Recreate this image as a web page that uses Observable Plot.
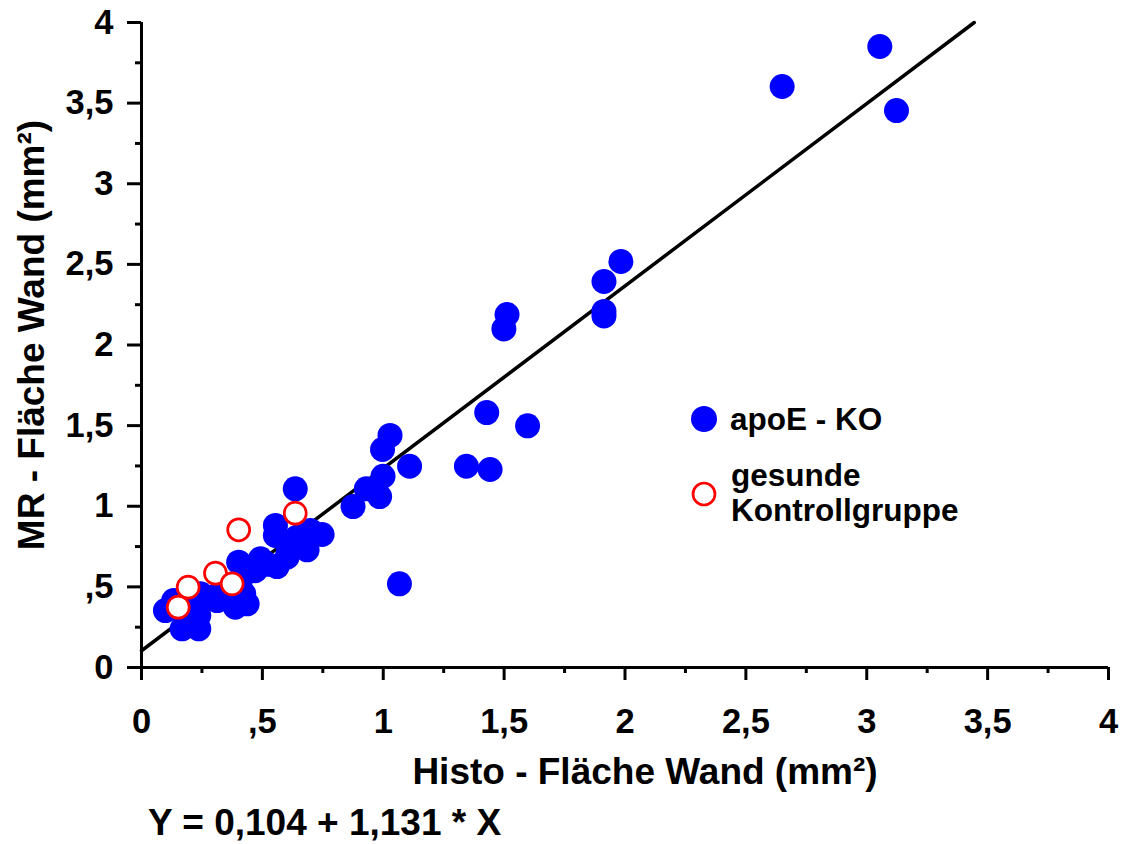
<!DOCTYPE html>
<html>
<head>
<meta charset="utf-8">
<script src="https://cdn.jsdelivr.net/npm/d3@7"></script>
<script src="https://cdn.jsdelivr.net/npm/@observablehq/plot@0.6"></script>
<style>
  body { margin: 0; background: #fff; }
  #wrap { position: relative; width: 1123px; height: 844px; font-family: "Liberation Sans", Arial, sans-serif; font-weight: bold; color: #000; }
  #chart svg { display: block; }
  #legend svg { position: absolute; overflow: visible; }
  .lt { position: absolute; white-space: nowrap; font-size: 31.5px; line-height: 35px; }
  #eq { position: absolute; left: 148px; top: 804px; font-size: 37px; line-height: 37px; white-space: nowrap; }
</style>
</head>
<body>
<div id="wrap">
  <div id="chart"></div>
  <div id="legend"></div>
  <div id="eq"></div>
</div>
<script>
// ---- data ----
const tickValues = [0, 0.5, 1, 1.5, 2, 2.5, 3, 3.5, 4];
const tickLabels = ["0", ",5", "1", "1,5", "2", "2,5", "3", "3,5", "4"];
const minorTicks = [0.25, 0.75, 1.25, 1.75, 2.25, 2.75, 3.25, 3.75];

const xTitle = "Histo - Fläche Wand (mm²)";
const yTitle = "MR - Fläche Wand (mm²)";
const seriesNames = ["apoE - KO", "gesunde Kontrollgruppe"];
const seriesLines = [["apoE - KO"], ["gesunde", "Kontrollgruppe"]];

const apoeX = [3.054, 3.123, 2.650, 1.983, 1.913, 1.913, 1.913, 1.512, 1.499, 1.428,
               1.597, 1.344, 1.442, 1.109, 1.028, 0.997, 0.999, 0.930, 0.985, 0.875,
               1.067, 0.636, 0.554, 0.554, 0.747, 0.685, 0.643, 0.602, 0.698, 0.402,
               0.492, 0.561, 0.602, 0.437, 0.388, 0.423, 0.409, 0.099, 0.168, 0.237,
               0.237, 0.285, 0.313, 0.244, 0.202, 0.133, 0.470, 0.520, 0.330];
const apoeY = [3.851, 3.454, 3.603, 2.518, 2.394, 2.208, 2.180, 2.189, 2.100, 1.581,
               1.499, 1.248, 1.228, 1.248, 1.439, 1.352, 1.186, 1.108, 1.060, 0.998,
               0.519, 1.108, 0.881, 0.819, 0.825, 0.730, 0.808, 0.767, 0.850, 0.653,
               0.674, 0.626, 0.684, 0.395, 0.374, 0.457, 0.540, 0.353, 0.240, 0.240,
               0.322, 0.436, 0.415, 0.457, 0.395, 0.415, 0.600, 0.640, 0.470];

const ctrlX = [0.636, 0.402, 0.306, 0.375, 0.193, 0.152];
const ctrlY = [0.957, 0.854, 0.585, 0.519, 0.498, 0.374];

const intercept = 0.104;
const slope = 1.131;

// ---- derived tables ----
const apoe = apoeX.map((x, i) => ({x, y: apoeY[i]}));
const ctrl = ctrlX.map((x, i) => ({x, y: ctrlY[i]}));
const fitX = [0, (4 - intercept) / slope];
const fit = fitX.map(x => ({x, y: intercept + slope * x}));
const deFmt = v => String(v).replace(".", ",");
const labelOf = d => tickLabels[tickValues.indexOf(d)];

const BLUE = "#0000ff", RED = "#ff0000";
const FONT = '"Liberation Sans", Arial, sans-serif';

const chart = Plot.plot({
  width: 1123,
  height: 800,
  marginLeft: 141,
  marginRight: 15,
  marginTop: 22,
  marginBottom: 133,
  x: {domain: [0, 4], label: null},
  y: {domain: [0, 4], label: null},
  style: {fontFamily: FONT, fontWeight: "bold", color: "#000", background: "#fff", overflow: "visible"},
  marks: [
    Plot.axisX(minorTicks, {tickSize: 6, tickFormat: () => "", strokeWidth: 3}),
    Plot.axisX(tickValues, {tickSize: 13, tickPadding: 28, tickFormat: labelOf, fontSize: 34.5, fontWeight: "bold", strokeWidth: 3}),
    Plot.axisY(minorTicks, {tickSize: 6, tickFormat: () => "", strokeWidth: 3}),
    Plot.axisY(tickValues, {tickSize: 14, tickPadding: 14, tickFormat: labelOf, fontSize: 34.5, fontWeight: "bold", strokeWidth: 3}),
    Plot.ruleY([0], {strokeWidth: 3}),
    Plot.ruleX([0], {strokeWidth: 3}),
    Plot.text([xTitle], {text: d => d, frameAnchor: "bottom", lineAnchor: "top", textAnchor: "middle", dy: 90, dx: 20, fontSize: 37, fontWeight: "bold"}),
    Plot.text([yTitle], {text: d => d, frameAnchor: "left", rotate: -90, lineAnchor: "middle", textAnchor: "middle", dx: -109, dy: -10, fontSize: 37, fontWeight: "bold"}),
    Plot.line(fit, {x: "x", y: "y", stroke: "#000", strokeWidth: 3.5}),
    Plot.dot(apoe, {x: "x", y: "y", r: 12.5, fill: BLUE, stroke: "none"}),
    Plot.dot(ctrl, {x: "x", y: "y", r: 11, fill: "#fff", stroke: RED, strokeWidth: 2.7})
  ]
});
document.getElementById("chart").appendChild(chart);

// legend
const legend = document.getElementById("legend");
legend.innerHTML = `
  <svg style="left:691px;top:406px" width="26" height="26"><circle cx="13" cy="13" r="13" fill="${BLUE}"/></svg>
  <div class="lt" style="left:730px;top:402px">${seriesLines[0][0]}</div>
  <svg style="left:692px;top:482px" width="24" height="24"><circle cx="12" cy="12" r="11" fill="#fff" stroke="${RED}" stroke-width="2.7"/></svg>
  <div class="lt" style="left:731px;top:458px">${seriesLines[1].join("<br>")}</div>`;

document.getElementById("eq").textContent = `Y = ${deFmt(intercept)} + ${deFmt(slope)} * X`;
</script>
</body>
</html>
